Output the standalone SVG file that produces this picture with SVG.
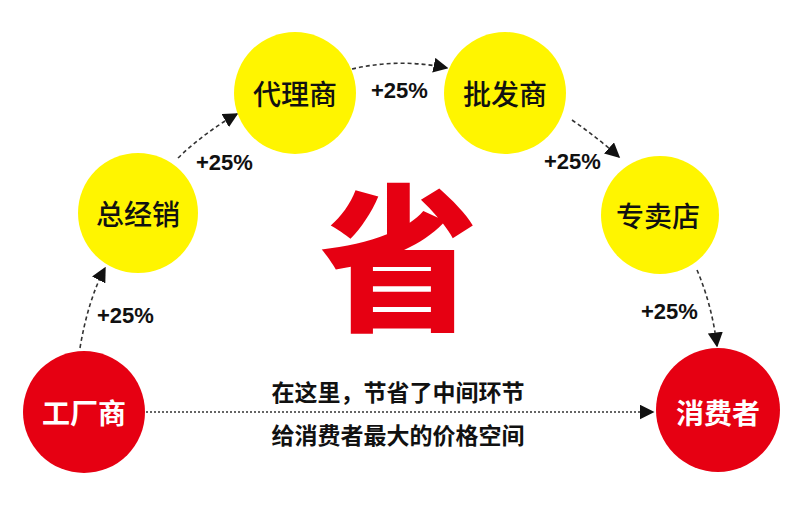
<svg xmlns="http://www.w3.org/2000/svg" width="800" height="515" viewBox="0 0 800 515">
<defs>
<marker id="ahb" viewBox="0 0 10 10" refX="9" refY="5" markerWidth="15" markerHeight="15" markerUnits="userSpaceOnUse" orient="auto">
<path d="M0,0 L10,5 L0,10 z" fill="#111"/>
</marker>
</defs>
<style>
.y{fill:#fff500}
.r{fill:#e60012}
.lb{font-family:"Noto Sans CJK SC","Noto Sans",sans-serif;font-size:28px;text-anchor:middle;dominant-baseline:central}
.dk{fill:#111;font-weight:500}
.wt{fill:#fff;font-weight:bold}
.pct{font-family:"Liberation Sans",Arial,sans-serif;font-weight:bold;font-size:22px;fill:#111}
.ln{fill:none;stroke:#333;stroke-width:1.6;stroke-dasharray:4 3}
.dt{fill:none;stroke:#333;stroke-width:1.5;stroke-dasharray:2 2}
.bt{font-family:"Noto Sans CJK SC",sans-serif;font-weight:bold;font-size:23px;fill:#111;text-anchor:middle;dominant-baseline:central}
</style>
<rect width="800" height="515" fill="#fff"/>
<g id="connectors">
<path class="ln" d="M80,348 Q88,300 105,268" marker-end="url(#ahb)"/>
<path class="ln" d="M178,158 Q205,132 237,114" marker-end="url(#ahb)"/>
<path class="ln" d="M352,69 Q400,58 447,68" marker-end="url(#ahb)"/>
<path class="ln" d="M572,120 Q598,138 619,157" marker-end="url(#ahb)"/>
<path class="ln" d="M697,270 Q712,305 717,346" marker-end="url(#ahb)"/>
<path class="dt" d="M146,412 L653,412" marker-end="url(#ahb)"/>
</g>
<g id="n-factory"><circle class="r" cx="84" cy="412" r="61"/><text class="lb wt" x="84" y="412">工厂商</text></g>
<g id="n-distributor"><circle class="y" cx="138" cy="213" r="60"/><text class="lb dk" x="138" y="213">总经销</text></g>
<g id="n-agent"><circle class="y" cx="295" cy="93" r="61"/><text class="lb dk" x="295" y="93">代理商</text></g>
<g id="n-wholesaler"><circle class="y" cx="505" cy="93" r="61"/><text class="lb dk" x="505" y="93">批发商</text></g>
<g id="n-store"><circle class="y" cx="660" cy="215" r="59"/><text class="lb dk" x="658" y="215">专卖店</text></g>
<g id="n-consumer"><circle class="r" cx="718" cy="410" r="62"/><text class="lb wt" x="718" y="412">消费者</text></g>
<g id="labels">
<text class="pct" x="97" y="323">+25%</text>
<text class="pct" x="196" y="170">+25%</text>
<text class="pct" x="371" y="98">+25%</text>
<text class="pct" x="544" y="169">+25%</text>
<text class="pct" x="641" y="319">+25%</text>
<text x="399" y="249" font-family="Noto Sans CJK SC,sans-serif" font-weight="900" font-size="158" fill="#e60012" text-anchor="middle" dominant-baseline="central">省</text>
<text class="bt" x="398" y="391">在这里，节省了中间环节</text>
<text class="bt" x="398" y="434">给消费者最大的价格空间</text>
</g>
</svg>
